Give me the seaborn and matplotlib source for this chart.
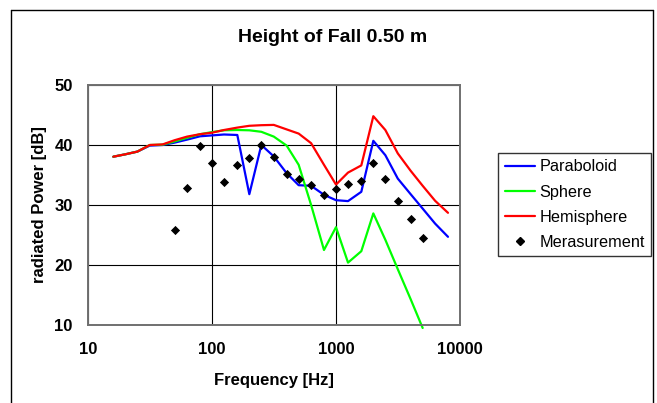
import matplotlib
matplotlib.use("Agg")
import matplotlib.pyplot as plt
from matplotlib.lines import Line2D
from matplotlib.ticker import FixedLocator, FixedFormatter, NullLocator
import numpy as np
import pandas as pd
import seaborn as sns

# Third-octave band centre frequencies [Hz]
freq = [16, 20, 25, 31.5, 40, 50, 63, 80, 100, 125, 160, 200, 250, 315,
        400, 500, 630, 800, 1000, 1250, 1600, 2000, 2500, 3150, 4000, 5000,
        6300, 8000]

# Radiated sound power level [dB] per radiator model
paraboloid = [38.05, 38.45, 38.9, 39.9, 40.0, 40.4, 40.9, 41.45, 41.6, 41.75,
              41.67, 31.8, 40.0, 38.1, 35.3, 33.3, 33.2, 31.7, 30.8, 30.65,
              32.2, 40.7, 38.3, 34.4, 31.8, 29.4, 26.9, 24.7]
sphere = [38.05, 38.45, 38.9, 40.0, 40.05, 40.6, 41.2, 41.8, 42.15, 42.45,
          42.5, 42.45, 42.2, 41.4, 39.9, 36.7, 30.0, 22.5, 26.3, 20.4,
          22.3, 28.6, 24.2, 19.3, 14.3, 9.5]
hemisphere = [38.05, 38.45, 38.9, 40.0, 40.1, 40.8, 41.4, 41.8, 42.05, 42.5,
              42.9, 43.2, 43.3, 43.35, 42.6, 41.9, 40.3, 36.7, 33.4, 35.4,
              36.6, 44.8, 42.5, 38.6, 35.7, 33.2, 30.7, 28.7]

# Measured values (50 Hz ... 5000 Hz)
meas_freq = [50, 63, 80, 100, 125, 160, 200, 250, 315, 400, 500, 630, 800,
             1000, 1250, 1600, 2000, 2500, 3150, 4000, 5000]
measurement = [25.8, 32.8, 39.9, 36.95, 33.8, 36.65, 37.9, 40.0, 38.05, 35.2,
               34.4, 33.3, 31.7, 32.6, 33.45, 34.0, 36.95, 34.3, 30.65, 27.65,
               24.45]

models = ["Paraboloid", "Sphere", "Hemisphere"]
colors = ["#0000ff", "#00ff00", "#ff0000"]

x_ticks = [10, 100, 1000, 10000]
x_ticklabels = ["10", "100", "1000", "10000"]
y_ticks = [10, 20, 30, 40, 50]

frames = []
for name, vals in zip(models, [paraboloid, sphere, hemisphere]):
    frames.append(pd.DataFrame({"freq": freq[:len(vals)], "power": vals,
                                "model": name}))
lines_df = pd.concat(frames, ignore_index=True)
meas_df = pd.DataFrame({"freq": meas_freq, "power": measurement})

sns.set_style("white")
plt.rcParams["font.family"] = ["Liberation Sans", "DejaVu Sans"]
plt.rcParams.update({"text.color": "black", "axes.labelcolor": "black",
                     "xtick.color": "black", "ytick.color": "black"})

fig = plt.figure(figsize=(6.57, 4.03), dpi=100)
ax = fig.add_axes([88 / 657, 1 - 325 / 403, 372 / 657, 240 / 403])
ax.set_xscale("log")

sns.lineplot(data=lines_df, x="freq", y="power", hue="model",
             hue_order=models, palette=colors, estimator=None, sort=False,
             linewidth=1.6, ax=ax, legend=False)
sns.scatterplot(data=meas_df, x="freq", y="power", marker="D", color="black",
                s=22, linewidth=0, ax=ax, zorder=5)

# the sphere curve runs slightly past the lower axis edge
for ln in ax.lines:
    ln.set_clip_on(False)

ax.set_xlim(10, 10000)
ax.set_ylim(10, 50)
ax.xaxis.set_major_locator(FixedLocator(x_ticks))
ax.xaxis.set_major_formatter(FixedFormatter(x_ticklabels))
ax.xaxis.set_minor_locator(NullLocator())
ax.set_yticks(y_ticks)

ax.grid(True, which="major", color="black", linewidth=0.8)
for sp in ax.spines.values():
    sp.set_color("#707070")
    sp.set_linewidth(1.4)
    sp.set_visible(True)

ax.tick_params(axis="both", length=0, labelsize=12)
ax.tick_params(axis="x", pad=12)
ax.tick_params(axis="y", pad=11)
for lab in ax.get_xticklabels() + ax.get_yticklabels():
    lab.set_fontweight("bold")

ax.set_xlabel("Frequency [Hz]", fontsize=12, fontweight="bold")
ax.set_ylabel("radiated Power [dB]", fontsize=12, fontweight="bold")
ax.xaxis.set_label_coords(0.5, -0.2)
ax.yaxis.set_label_coords(-0.11, 0.5)

fig.suptitle("Height of Fall 0.50 m", x=333 / 657, y=1 - 38 / 403,
             va="center", fontsize=14, fontweight="bold")

handles = [Line2D([], [], color=c, linewidth=1.6) for c in colors]
handles.append(Line2D([], [], color="black", marker="D", markersize=4,
                      linestyle="none"))
leg = ax.legend(handles, models + ["Merasurement"], loc="upper left",
                bbox_to_anchor=(498 / 657, 1 - 153 / 403),
                bbox_transform=fig.transFigure, borderaxespad=0,
                fontsize=11.7, frameon=True, fancybox=False,
                handlelength=1.85, handletextpad=0.3, labelspacing=0.62,
                borderpad=0.4)
leg.get_frame().set_edgecolor("black")
leg.get_frame().set_linewidth(1.0)

# outer chart border
for xs, ys in [((11 / 657, 11 / 657), (0, 1 - 10 / 403)),
               ((11 / 657, 653 / 657), (1 - 10 / 403, 1 - 10 / 403)),
               ((653 / 657, 653 / 657), (0, 1 - 10 / 403))]:
    fig.add_artist(Line2D(xs, ys, color="black", linewidth=1.0,
                          transform=fig.transFigure))

fig.savefig("out.png", dpi=100)
